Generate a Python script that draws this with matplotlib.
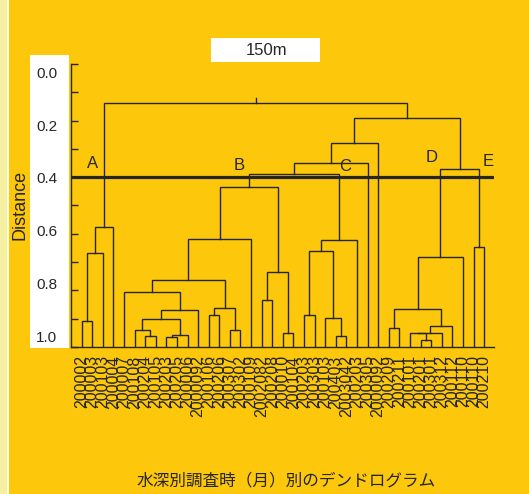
import matplotlib
matplotlib.use("Agg")
import matplotlib.pyplot as plt
from matplotlib.patches import Rectangle
from matplotlib.ticker import MultipleLocator
from matplotlib.transforms import blended_transform_factory

plt.rcParams['font.family'] = ['Liberation Sans', 'DejaVu Sans']

# leaf labels, left to right
labels = ['200002', '200003', '200103', '200004', '200007', '200108', '200204',
          '200105', '200203', '200205', '200006', '2000092', '200106', '200206',
          '200307', '200302', '200109', '2002082', '200208', '200010', '200104',
          '200203', '200303', '200103', '200403', '2003042', '200203', '200305',
          '2000092', '200209', '200211', '200101', '200201', '200301', '200312',
          '200112', '200110', '200110', '200210']

# merges (left, right, distance); ids >= len(labels) refer to earlier merges
merge_left = [0, 39, 40, 6, 5, 8, 44, 43, 46, 4, 14, 12, 50, 48, 52, 17, 19, 54, 53,
              21, 24, 23, 58, 61, 57, 63, 64, 29, 32, 31, 68, 69, 66, 71, 37, 72, 65, 41]
merge_right = [1, 2, 3, 7, 42, 9, 10, 45, 11, 47, 15, 13, 49, 51, 16, 18, 20, 55, 56,
               22, 25, 59, 60, 26, 62, 27, 28, 30, 33, 67, 34, 35, 70, 36, 38, 73, 74, 75]
merge_dist = [0.907, 0.669, 0.575, 0.961, 0.940, 0.965, 0.958, 0.902, 0.868, 0.804,
              0.940, 0.888, 0.861, 0.765, 0.620, 0.835, 0.952, 0.736, 0.433,
              0.888, 0.960, 0.896, 0.660, 0.623, 0.390, 0.351, 0.280,
              0.934, 0.977, 0.952, 0.952, 0.925, 0.866, 0.682, 0.645, 0.372, 0.192, 0.139]

clusters = ['A', 'B', 'C', 'D', 'E']
cut = 0.4
ytick_values = [0.0, 0.2, 0.4, 0.6, 0.8, 1.0]

bg = '#FDC70C'
ink = '#262626'

fig = plt.figure(figsize=(5.29, 4.94), dpi=100)
fig.patch.set_facecolor(bg)
fig.patches.append(Rectangle((0, 0), 0.0135, 1, transform=fig.transFigure,
                             facecolor='#F5EFA2', edgecolor='none', zorder=-2))
fig.patches.append(Rectangle((0.0135, 0), 0.004, 1, transform=fig.transFigure,
                             facecolor='#FFFBE0', edgecolor='none', zorder=-2))
# white boxes behind the y tick labels and the "150m" caption
fig.patches.append(Rectangle((0.057, 0.2955), 0.0737, 0.593, transform=fig.transFigure,
                             facecolor='white', edgecolor='none', zorder=-2))
fig.patches.append(Rectangle((0.399, 0.8745), 0.206, 0.0486, transform=fig.transFigure,
                             facecolor='white', edgecolor='none', zorder=-2))
fig.text(0.503, 0.897, '150m', ha='center', va='center', fontsize=12, color=ink)

ax = fig.add_axes([0.1342, 0.2976, 0.7996, 0.5729])
ax.set_facecolor('none')
ax.set_zorder(2)

n = len(labels)
xpos = {i: float(i) for i in range(n)}
ypos = {i: 1.0 for i in range(n)}
for k, (a, b, d) in enumerate(zip(merge_left, merge_right, merge_dist)):
    ax.plot([xpos[a], xpos[a], xpos[b], xpos[b]], [ypos[a], d, d, ypos[b]],
            color=ink, lw=1.0, solid_joinstyle='miter')
    xpos[n + k] = (xpos[a] + xpos[b]) / 2
    ypos[n + k] = d

root = n + len(merge_dist) - 1
ax.plot([xpos[root], xpos[root]], [ypos[root], ypos[root] - 0.02], color=ink, lw=1.0)

ax.set_xlim(-1.0, n - 0.07)
ax.set_ylim(1.0, 0.0)
ax.axhline(cut, color=ink, lw=2.3)

for name, x, y in zip(clusters, [1.07, 14.9, 24.9, 33.0, 38.4], [0.35, 0.357, 0.364, 0.332, 0.343]):
    ax.text(x, y, name, ha='center', va='center', fontsize=12, color=ink)

ax.set_xticks(range(n))
ax.set_xticklabels(labels, rotation=90, fontsize=11.5, color=ink)
ax.tick_params(axis='x', length=0, pad=6)
ax.yaxis.set_major_locator(MultipleLocator(0.2))
ax.yaxis.set_minor_locator(MultipleLocator(0.1))
ax.tick_params(axis='y', which='both', direction='in', length=5, width=1.0,
               color=ink, labelleft=False)

# the value labels in the source sit on a slightly compressed scale
trans = blended_transform_factory(ax.transAxes, ax.transData)
for v in ytick_values:
    ax.text(-0.033, 0.035 + v * 0.932, f'{v:.1f}', transform=trans, ha='right',
            va='center', fontsize=11, color=ink, clip_on=False)

ax.spines['top'].set_visible(False)
ax.spines['right'].set_visible(False)
ax.spines['left'].set_color(ink)
ax.spines['bottom'].set_color(ink)
ax.spines['left'].set_linewidth(1.0)
ax.spines['bottom'].set_linewidth(1.0)

fig.text(0.038, 0.585, 'Distance', rotation=90, ha='center', va='center',
         fontsize=13, color=ink)
fig.text(0.54, 0.026, '水深別調査時（月）別のデンドログラム', ha='center', va='center',
         fontsize=12, color=ink, family=['Noto Sans CJK JP', 'DejaVu Sans'])

fig.savefig('out.png', dpi=100, facecolor=fig.get_facecolor())
